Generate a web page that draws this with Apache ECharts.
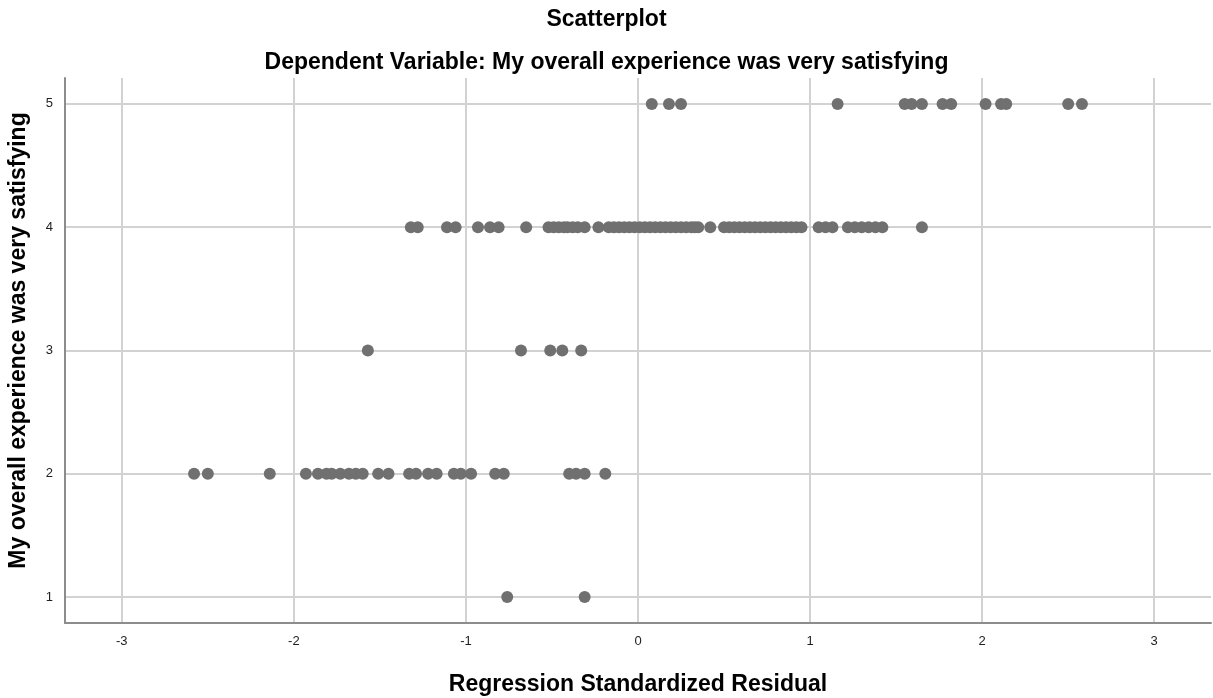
<!DOCTYPE html>
<html>
<head>
<meta charset="utf-8">
<script src="https://cdn.jsdelivr.net/npm/echarts@6/dist/echarts.min.js"></script>
<style>html,body{margin:0;padding:0;background:#fff}#c{width:1213px;height:698px}</style>
</head>
<body>
<div id="c"></div>
<script>
var xTicks = [-3, -2, -1, 0, 1, 2, 3];
var yTicks = [1, 2, 3, 4, 5];
var resid5 = [0.08, 0.18, 0.25, 1.16, 1.55, 1.59, 1.65, 1.77, 1.82, 2.02, 2.11, 2.14, 2.50, 2.58];
var resid4 = [-1.32, -1.28, -1.11, -1.06, -0.93, -0.86, -0.81, -0.65,
  -0.52, -0.49, -0.46, -0.43, -0.41, -0.38, -0.35, -0.31, -0.23,
  -0.17, -0.14, -0.11, -0.08, -0.05, -0.02, 0.01, 0.04, 0.07, 0.10, 0.13, 0.16, 0.19, 0.22, 0.25, 0.28, 0.31, 0.33, 0.35,
  0.42,
  0.50, 0.53, 0.56, 0.59, 0.62, 0.65, 0.68, 0.71, 0.74, 0.77, 0.80, 0.83, 0.86, 0.89, 0.92, 0.95,
  1.05, 1.09, 1.13, 1.22, 1.26, 1.30, 1.34, 1.38, 1.42, 1.65];
var resid3 = [-1.57, -0.68, -0.51, -0.44, -0.33];
var resid2 = [-2.58, -2.50, -2.14, -1.93, -1.86, -1.81, -1.78, -1.73, -1.68, -1.64, -1.60, -1.51, -1.45,
  -1.33, -1.29, -1.22, -1.17, -1.07, -1.03, -0.97, -0.83, -0.78, -0.40, -0.36, -0.31, -0.19];
var resid1 = [-0.76, -0.31];

var groups = [[5, resid5], [4, resid4], [3, resid3], [2, resid2], [1, resid1]];
var data = [];
groups.forEach(function (g) { g[1].forEach(function (x) { data.push([x, g[0]]); }); });

var FONT = '"Liberation Sans", Arial, sans-serif';
var chart = echarts.init(document.getElementById('c'), null, {renderer: 'canvas'});
chart.setOption({
  animation: false,
  backgroundColor: '#ffffff',
  title: [
    {text: 'Scatterplot', left: 'center', top: 3,
     textStyle: {fontFamily: FONT, fontSize: 23, fontWeight: 'bold', color: '#000'}},
    {text: 'Dependent Variable: My overall experience was very satisfying', left: 'center', top: 46,
     textStyle: {fontFamily: FONT, fontSize: 23, fontWeight: 'bold', color: '#000'}}
  ],
  grid: {left: 65, right: 2, top: 78, bottom: 75, containLabel: false, outerBoundsMode: 'none'},
  xAxis: {
    type: 'value', min: -3.33, max: 3.33, minInterval: 1, maxInterval: 1,
    name: 'Regression Standardized Residual', nameLocation: 'middle', nameGap: 50,
    nameTextStyle: {fontFamily: FONT, fontSize: 23, fontWeight: 'bold', color: '#000'},
    axisLine: {show: true, onZero: false, lineStyle: {color: '#8c8c8c', width: 2}},
    axisTick: {show: false},
    axisLabel: {show: true, showMinLabel: false, showMaxLabel: false, margin: 12,
      fontFamily: FONT, fontSize: 13, color: '#222',
      formatter: function (v) { return xTicks.indexOf(v) >= 0 ? String(v) : ''; }},
    splitLine: {show: true, showMinLine: false, showMaxLine: false, lineStyle: {color: '#d2d2d2', width: 2}}
  },
  yAxis: {
    type: 'value', min: 0.79, max: 5.21, minInterval: 1, maxInterval: 1,
    name: 'My overall experience was very satisfying', nameLocation: 'middle', nameGap: 35,
    nameTextStyle: {fontFamily: FONT, fontSize: 23, fontWeight: 'bold', color: '#000', padding: [0, 0, 0, 20]},
    axisLine: {show: true, onZero: false, lineStyle: {color: '#8c8c8c', width: 2}},
    axisTick: {show: false},
    axisLabel: {show: true, showMinLabel: false, showMaxLabel: false, margin: 12,
      fontFamily: FONT, fontSize: 13, color: '#222',
      formatter: function (v) { return yTicks.indexOf(v) >= 0 ? String(v) : ''; }},
    splitLine: {show: true, showMinLine: false, showMaxLine: false, lineStyle: {color: '#d2d2d2', width: 2}}
  },
  series: [{
    type: 'scatter', data: data, symbol: 'circle', symbolSize: 12,
    itemStyle: {color: '#707070', opacity: 1}
  }]
});
</script>
</body>
</html>
